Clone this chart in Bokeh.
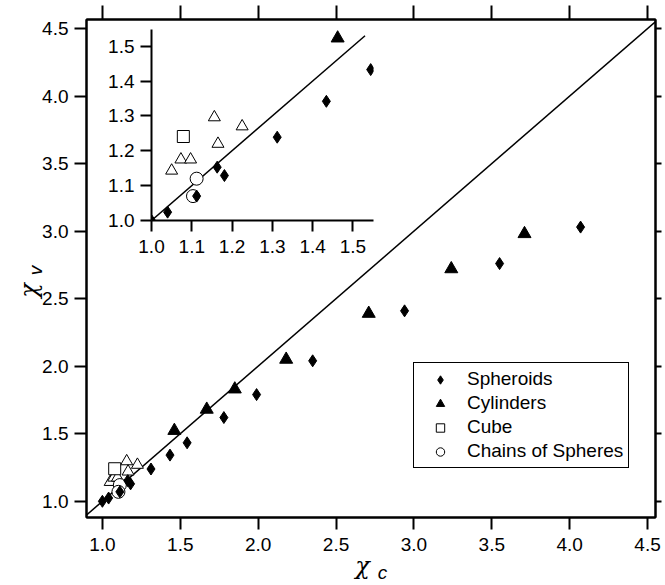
from bokeh.plotting import figure
from bokeh.layouts import column
from bokeh.models import (Range1d, LinearAxis, FixedTicker, PrintfTickFormatter,
                          Label, Legend, LegendItem, GridBox, CustomLabelingPolicy)
from bokeh.embed import file_html
from bokeh.resources import INLINE

# ---------------- data ----------------
spheroid_x = [1.000, 1.040, 1.112, 1.163, 1.181, 1.312, 1.434, 1.544, 1.78, 1.99, 2.35, 2.94, 3.55, 4.07]
spheroid_y = [1.000, 1.024, 1.070, 1.153, 1.129, 1.239, 1.342, 1.433, 1.62, 1.79, 2.04, 2.41, 2.76, 3.03]
cylinder_x = [1.462, 1.67, 1.85, 2.18, 2.71, 3.24, 3.71]
cylinder_y = [1.523, 1.68, 1.83, 2.05, 2.39, 2.72, 2.98]
open_tri_x = [1.050, 1.073, 1.097, 1.156, 1.165, 1.225]
open_tri_y = [1.143, 1.175, 1.175, 1.296, 1.220, 1.270]
cube_x = [1.079]
cube_y = [1.241]
chain_x = [1.112, 1.103]
chain_y = [1.120, 1.070]
diag_x = [0.85, 4.6]
inset_diag_x = [1.0, 1.53]

main_ticks = [1.0, 1.5, 2.0, 2.5, 3.0, 3.5, 4.0, 4.5]
inset_ticks = [1.0, 1.1, 1.2, 1.3, 1.4, 1.5]
legend_labels = ["Spheroids", "Cylinders", "Cube", "Chains of Spheres"]

FONT = "Liberation Sans"
TICK_FS = "19px"
W, H = 665, 585

HIDE_ALL = CustomLabelingPolicy(code="""
    const all = [...indices]
    for (const i of all) indices.unset(i)
    return indices
""")


def style_axis(ax, ticks, tick_out=12, labels=True):
    ax.ticker = FixedTicker(ticks=ticks)
    ax.formatter = PrintfTickFormatter(format="%.1f")
    ax.axis_line_width = 2
    ax.axis_line_color = "black"
    ax.major_tick_line_width = 2
    ax.major_tick_line_color = "black"
    ax.major_tick_in = 0
    ax.major_tick_out = tick_out
    ax.minor_tick_line_color = None
    ax.major_label_text_font = FONT
    ax.major_label_text_color = "black"
    if labels:
        ax.major_label_text_font_size = TICK_FS
        ax.major_label_standoff = 6
    else:
        ax.major_label_text_font_size = "1px"
        ax.major_label_standoff = 0
        ax.major_label_policy = HIDE_ALL


def draw_points(fig):
    fig.scatter(open_tri_x, open_tri_y, marker="triangle", size=12,
                fill_color="white", line_color="black", line_width=1)
    r_cube = fig.scatter(cube_x, cube_y, marker="square", size=12,
                         fill_color="white", line_color="black", line_width=1)
    r_chain = fig.scatter(chain_x, chain_y, marker="circle", size=13,
                          fill_color="white", line_color="black", line_width=1)
    r_sph = fig.scatter(spheroid_x, spheroid_y, marker="diamond", size=12,
                        fill_color="black", line_color="black")
    r_cyl = fig.scatter(cylinder_x, cylinder_y, marker="triangle", size=13,
                        fill_color="black", line_color="black")
    return r_sph, r_cyl, r_cube, r_chain


# ---------------- main figure ----------------
p = figure(width=W, height=H,
           x_range=Range1d(0.898, 4.551), y_range=Range1d(0.88, 4.567),
           min_border_left=86, min_border_right=6, min_border_top=19, min_border_bottom=68,
           output_backend="svg", toolbar_location=None)
p.xgrid.visible = False
p.ygrid.visible = False
p.outline_line_color = "black"
p.outline_line_width = 2
p.outline_line_alpha = 1
p.background_fill_color = "white"
p.border_fill_color = "white"

style_axis(p.xaxis[0], main_ticks)
style_axis(p.yaxis[0], main_ticks)
p.xaxis[0].major_label_standoff = 8

top_ax = LinearAxis()
style_axis(top_ax, main_ticks, tick_out=14, labels=False)
p.add_layout(top_ax, "above")
right_ax = LinearAxis()
style_axis(right_ax, main_ticks, tick_out=6, labels=False)
p.add_layout(right_ax, "right")

p.line(diag_x, diag_x, line_color="black", line_width=1.5)
r_sph, r_cyl, r_cube, r_chain = draw_points(p)

legend = Legend(items=[LegendItem(label=legend_labels[0], renderers=[r_sph]),
                       LegendItem(label=legend_labels[1], renderers=[r_cyl]),
                       LegendItem(label=legend_labels[2], renderers=[r_cube]),
                       LegendItem(label=legend_labels[3], renderers=[r_chain])],
                location=(327, 49),
                label_text_font=FONT, label_text_font_size="19px",
                label_text_color="black",
                label_height=21, glyph_height=21, glyph_width=42,
                label_standoff=6, spacing=2, padding=5, margin=0,
                border_line_color="black", border_line_width=1.5, border_line_alpha=1,
                background_fill_color="white", background_fill_alpha=1)
p.add_layout(legend)

# ---------------- inset figure ----------------
ins = figure(width=151 + 222 + 14, height=29 + 191 + 45,
             x_range=Range1d(1.0, 1.551), y_range=Range1d(1.0, 1.548),
             min_border_left=151, min_border_top=29, min_border_right=14, min_border_bottom=45,
             output_backend="svg", toolbar_location=None)
ins.xgrid.visible = False
ins.ygrid.visible = False
ins.outline_line_color = None
ins.background_fill_color = None
ins.border_fill_color = None
style_axis(ins.xaxis[0], inset_ticks, tick_out=11)
style_axis(ins.yaxis[0], inset_ticks, tick_out=11)
ins.xaxis[0].major_label_standoff = 8

ins.line(inset_diag_x, inset_diag_x, line_color="black", line_width=1.5)
draw_points(ins)

# ---------------- axis titles (overlay in canvas pixel units) ----------------
ov = figure(width=W, height=H, x_range=Range1d(0, W), y_range=Range1d(0, H),
            min_border=0, x_axis_type=None, y_axis_type=None,
            output_backend="svg", toolbar_location=None)
ov.xgrid.visible = False
ov.ygrid.visible = False
ov.outline_line_color = None
ov.background_fill_color = None
ov.border_fill_color = None
ov.add_layout(Label(x=362, y=20, text="χ", text_font="DejaVu Serif",
                    text_font_style="italic", text_font_size="24px", text_color="black",
                    text_align="center", text_baseline="middle"))
ov.add_layout(Label(x=382, y=13, text="c", text_font=FONT,
                    text_font_style="italic", text_font_size="19px", text_color="black",
                    text_align="center", text_baseline="middle"))
ov.add_layout(Label(x=28, y=295, text="χ", text_font="DejaVu Serif",
                    text_font_style="italic", text_font_size="24px", angle=1.5708,
                    text_color="black", text_align="center", text_baseline="middle"))
ov.add_layout(Label(x=35, y=315, text="v", text_font=FONT,
                    text_font_style="italic", text_font_size="19px", angle=1.5708,
                    text_color="black", text_align="center", text_baseline="middle"))

layout = GridBox(children=[(column(p), 0, 0), (column(ins), 0, 0), (column(ov), 0, 0)])

open("out.html", "w").write(file_html(layout, INLINE))
